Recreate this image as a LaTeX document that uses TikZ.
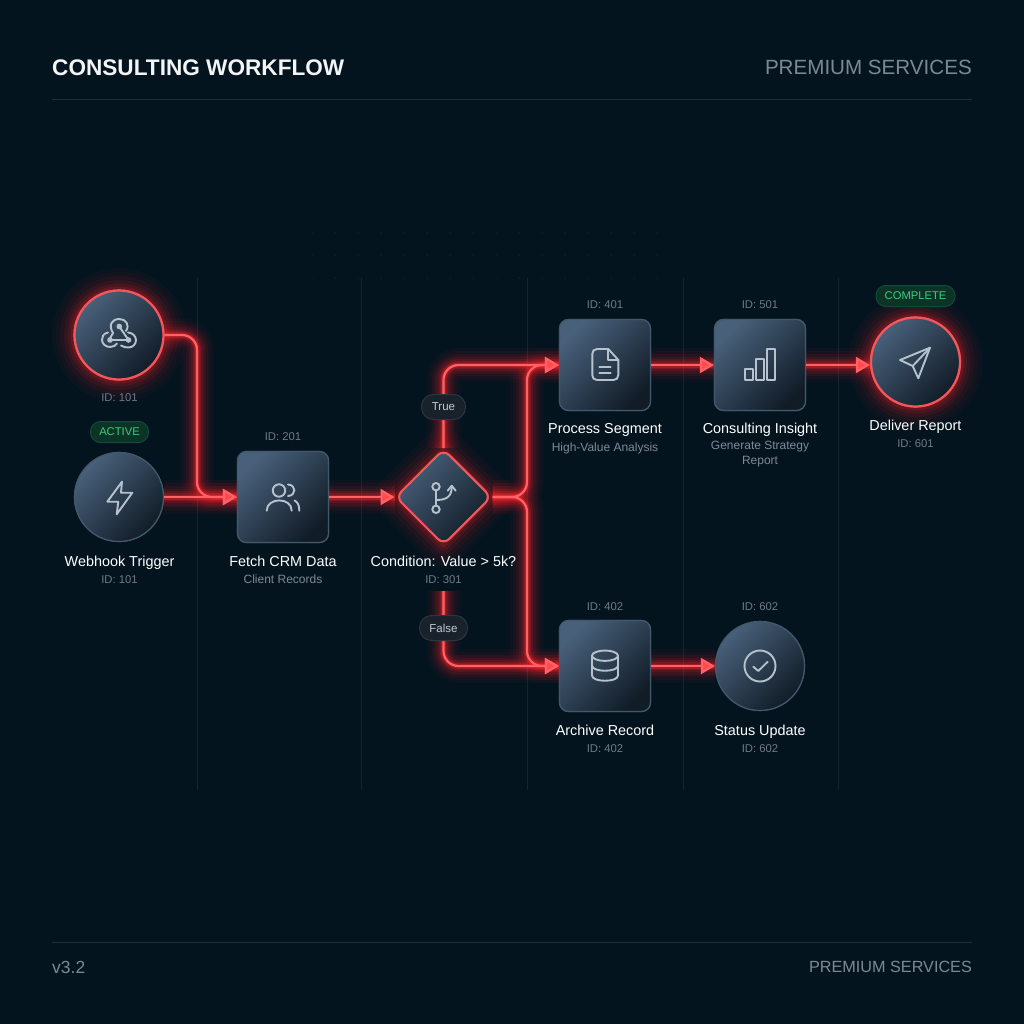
\documentclass[tikz,border=0pt]{standalone}
\usepackage{fontspec}
\setmainfont{Liberation Sans}
\usetikzlibrary{arrows.meta,shapes.geometric}
\definecolor{bgc}{HTML}{04141F}
\definecolor{rulec}{HTML}{1B2F3C}
\definecolor{gridc}{HTML}{14252F}
\definecolor{dotc}{HTML}{0B1E2B}
\definecolor{nodeA}{HTML}{48607A}
\definecolor{nodeB}{HTML}{111C27}
\definecolor{edgeg}{HTML}{42596C}
\definecolor{redc}{HTML}{FF6266}
\definecolor{hotedge}{HTML}{F2575C}
\definecolor{glowc}{HTML}{FF2228}
\definecolor{tipc}{HTML}{FF4A4E}
\definecolor{iconc}{HTML}{B6C3CF}
\definecolor{idc}{HTML}{6E7B86}
\definecolor{subc}{HTML}{7E8A94}
\definecolor{titlec}{HTML}{F2F4F6}
\definecolor{headc}{HTML}{7B8993}
\definecolor{greenc}{HTML}{3FCB7C}
\definecolor{pillg}{HTML}{0B3426}
\definecolor{pillgb}{HTML}{124A36}
\definecolor{pillf}{HTML}{19222B}
\definecolor{pillb}{HTML}{2B3540}
\newcommand{\GlowPath}[1]{%
  \foreach \wd/\op in {34/0.035,28/0.05,22/0.07,17/0.09,12/0.13,8/0.20,5/0.32}{
    \draw[line width=\wd pt,glowc,opacity=\op,line join=round,rounded corners=15pt] #1;
  }
}
\newcommand{\CoreArrow}[1]{\draw[wire,-{Triangle[length=14pt,width=16pt,fill=tipc]}] #1;}
\tikzset{
  wire/.style={line width=2.2pt,redc,rounded corners=15pt,line join=round},
  softbox/.style={rectangle,rounded corners=9pt,minimum size=91pt,inner sep=0pt,draw=edgeg,line width=1.2pt,top color=nodeA,bottom color=nodeB,shading angle=45},
  softcirc/.style={circle,minimum size=89pt,inner sep=0pt,draw=edgeg,line width=1.2pt,top color=nodeA,bottom color=nodeB,shading angle=45},
  hotcirc/.style={softcirc,draw=hotedge,line width=2.2pt},
  hotdiam/.style={diamond,aspect=1,rounded corners=8pt,minimum size=96pt,inner sep=0pt,draw=hotedge,line width=2pt,top color=nodeA,bottom color=nodeB,shading angle=45},
  icn/.style={draw=iconc,line width=1.9pt,line cap=round,line join=round},
  title/.style={anchor=base,inner sep=0pt,text=white,font=\fontsize{14.4}{17}\selectfont},
  idl/.style={anchor=base,inner sep=0pt,text=idc,font=\fontsize{11.3}{14}\selectfont},
  subl/.style={anchor=base,inner sep=0pt,text=subc,font=\fontsize{12}{15}\selectfont,align=center},
  greenpill/.style={rectangle,rounded corners=10pt,minimum height=21pt,inner sep=0pt,fill=pillg,draw=pillgb,line width=1pt,text=greenc,font=\fontsize{11.2}{14}\selectfont},
  greypill/.style={rectangle,rounded corners=12pt,minimum height=25pt,inner sep=0pt,fill=pillf,draw=pillb,line width=1pt,text=iconc!90!white,font=\fontsize{11.5}{14}\selectfont},
}
\begin{document}
\begin{tikzpicture}[x=1pt,y=-1pt]
\useasboundingbox (0,0) rectangle (1024,1024);
\fill[bgc] (0,0) rectangle (1024,1024);
% faint dot grid
\foreach \dx in {312,335,358,381,404,427,450,473,496,519,542,565,588,611,634,657}{
  \foreach \dy in {233,255,278}{
    \fill[dotc] (\dx,\dy) circle[radius=1pt];
  }
}
% header and footer
\draw[rulec,line width=1pt] (52,100) -- (972,100);
\draw[rulec,line width=1pt] (52,942) -- (972,942);
\node[anchor=west,inner sep=0pt,text=titlec,font=\fontsize{22.6}{28}\bfseries\selectfont] (head) at (52,67.5) {CONSULTING WORKFLOW};
\node[anchor=east,inner sep=0pt,text=headc,font=\fontsize{20.6}{26}\selectfont] (headr) at (972,67.5) {PREMIUM SERVICES};
\node[anchor=west,inner sep=0pt,text=headc,font=\fontsize{17.5}{20}\selectfont] (ver) at (52,967) {v3.2};
\node[anchor=east,inner sep=0pt,text=headc,font=\fontsize{16.2}{20}\selectfont] (footr) at (972,967) {PREMIUM SERVICES};
% column lines
\foreach \cx in {197,361,527,683,838}{\draw[gridc,line width=1pt] (\cx,278) -- (\cx,790);}
% nodes (placed first so that connectors can use their names)
\node[hotcirc] (hook) at (119,335) {};
\node[softcirc] (trig) at (119,497) {};
\node[softbox] (fetch) at (283,497) {};
\node[hotdiam] (cond) at (443.5,497) {};
\node[softbox] (proc) at (605,365) {};
\node[softbox] (ins) at (760,365) {};
\node[hotcirc] (dlv) at (915.5,362) {};
\node[softbox] (arch) at (605,666) {};
\node[softcirc] (stat) at (760,666) {};
% way points
\coordinate (w1) at (197,335);
\coordinate (w2) at (197,497);
\coordinate (t1) at (443.5,365);
\coordinate (j1) at (527,497);
\coordinate (j2) at (527,365);
\coordinate (j3) at (527,666);
\coordinate (f0) at (443.5,591);
\coordinate (f1) at (443.5,666);
\coordinate (d0) at (ins.east -| dlv.west);
% glow halos beneath hot nodes
\foreach \wd/\op in {44/0.03,36/0.04,28/0.055,20/0.08,13/0.11,7/0.16}{
  \draw[glowc,opacity=\op,line width=\wd pt] (hook.center) circle[radius=45pt];
  \draw[glowc,opacity=\op,line width=\wd pt] (dlv.center) circle[radius=45pt];
  \draw[glowc,opacity=\op,line width=\wd pt,line join=round] (443.5,451) -- (490.5,497) -- (443.5,544) -- (396.5,497) -- cycle;
}
% connector glow
\GlowPath{(hook.east) -- (w1) -- (w2) -- (fetch.west)}
\GlowPath{(trig.east) -- (fetch.west)}
\GlowPath{(fetch.east) -- (cond.west)}
\GlowPath{(cond.north) -- (t1) -- (proc.west)}
\GlowPath{(cond.east) -- (j1) -- (j2) -- (proc.west)}
\GlowPath{(cond.east) -- (j1) -- (j3) -- (arch.west)}
\GlowPath{(f0) -- (f1) -- (arch.west)}
\GlowPath{(proc.east) -- (ins.west)}
\GlowPath{(ins.east) -- (d0)}
\GlowPath{(arch.east) -- (stat.west)}
% redraw nodes above the glow
\node[hotcirc] at (119,335) {};
\node[softcirc] at (119,497) {};
\node[softbox] at (283,497) {};
\node[hotdiam] at (443.5,497) {};
\node[softbox] at (605,365) {};
\node[softbox] at (760,365) {};
\node[hotcirc] at (915.5,362) {};
\node[softbox] at (605,666) {};
\node[softcirc] at (760,666) {};
% connector cores
\CoreArrow{(hook.east) -- (w1) -- (w2) -- (fetch.west)}
\CoreArrow{(trig.east) -- (fetch.west)}
\CoreArrow{(fetch.east) -- (cond.west)}
\CoreArrow{(cond.north) -- (t1) -- (proc.west)}
\CoreArrow{(cond.east) -- (j1) -- (j2) -- (proc.west)}
\CoreArrow{(cond.east) -- (j1) -- (j3) -- (arch.west)}
\CoreArrow{(f0) -- (f1) -- (arch.west)}
\CoreArrow{(proc.east) -- (ins.west)}
\CoreArrow{(ins.east) -- (d0)}
\CoreArrow{(arch.east) -- (stat.west)}
% pills
\node[greypill,minimum width=44pt] (ptrue) at (443.5,407) {True};
\node[greypill,minimum width=48pt] (pfalse) at (443.5,628) {False};
\node[greenpill,minimum width=58pt] (pact) at (119.5,432) {ACTIVE};
\node[greenpill,minimum width=79pt] (pcomp) at (915.5,296) {COMPLETE};
% labels
\node[idl] (i1) at (119.5,401.5) {ID: 101};
\node[title] (t2) at (119.5,566) {Webhook Trigger};
\node[idl] (i2) at (119.5,583) {ID: 101};
\node[idl] (i3) at (283,440.5) {ID: 201};
\node[title] (t3) at (283,566) {Fetch CRM Data};
\node[subl] (s3) at (283,583) {Client Records};
\node[title] (t4) at (443.5,566) {Condition: Value > 5k?};
\node[idl] (i4) at (443.5,583) {ID: 301};
\node[idl] (i5) at (605,308) {ID: 401};
\node[title] (t5) at (605,433.5) {Process Segment};
\node[subl] (s5) at (605,451) {High-Value Analysis};
\node[idl] (i6) at (760,308) {ID: 501};
\node[title] (t6) at (760,433.5) {Consulting Insight};
\node[subl,anchor=north] (s6) at (760,441) {Generate Strategy\\Report};
\node[title] (t7) at (915.5,430) {Deliver Report};
\node[idl] (i7) at (915.5,447.5) {ID: 601};
\node[idl] (i8) at (605,610) {ID: 402};
\node[title] (t8) at (605,735) {Archive Record};
\node[idl] (i9) at (605,752) {ID: 402};
\node[idl] (i10) at (760,610) {ID: 602};
\node[title] (t9) at (760,735) {Status Update};
\node[idl] (i11) at (760,752) {ID: 602};
% icons
% webhook
\draw[icn] (113,333) .. controls (108,325) and (112,319) .. (119.3,319) .. controls (126,319) and (130,325) .. (126,331);
\draw[icn] (113,333) -- (109,340);
\draw[icn] (119.3,326.5) -- (128.5,340) -- (110,340);
\draw[icn] (108,332.5) .. controls (103,333.5) and (102,337) .. (102,340) .. controls (102,344) and (106,347) .. (110,347) .. controls (113,347) and (116,345.5) .. (117,343.5);
\draw[icn] (121,345.5) .. controls (123,347) and (126,347.5) .. (128.5,347.5) .. controls (133,347.5) and (136,344) .. (136,340) .. controls (136,336) and (132,332.5) .. (128,332.5);
\fill[iconc] (119.3,326.5) circle[radius=2.8pt] (110,340) circle[radius=2.8pt] (128.5,340) circle[radius=2.8pt];
% bolt
\draw[icn] (122,481.7) -- (107.3,501.7) -- (118.3,501.7) -- (116.7,514.3) -- (132.3,492.7) -- (121,492.7) -- cycle;
% people
\draw[icn] (279,490.5) circle[radius=6.2pt];
\draw[icn] (266.7,510.7) .. controls (266.7,497) and (291.7,497) .. (291.7,510.7);
\draw[icn] (288,484.5) .. controls (296.5,485) and (296.5,495.5) .. (288,496);
\draw[icn] (294.5,500.5) .. controls (298,502) and (299.3,506) .. (299.3,510.7);
% branch
\draw[icn] (436,486.7) circle[radius=3.7pt] (436,509.3) circle[radius=3.7pt];
\draw[icn] (436,490.4) -- (436,505.6);
\draw[icn] (436,500) .. controls (446,500) and (451.7,497) .. (451.7,487);
\draw[icn] (447.7,490.7) -- (451.7,485.7) -- (455.7,490.7);
% document
\draw[icn] (608.3,349) -- (597,349) .. controls (594,349) and (592.3,351) .. (592.3,354) -- (592.3,375) .. controls (592.3,378) and (594,380) .. (597,380) -- (613.5,380) .. controls (616.5,380) and (618.3,378) .. (618.3,375) -- (618.3,360) -- cycle;
\draw[icn] (608.3,349) -- (608.3,360) -- (618.3,360);
\draw[icn] (599.3,366.7) -- (610.7,366.7) (599.3,372.7) -- (610.7,372.7);
% bars
\draw[icn,line width=1.7pt] (745,369.3) rectangle (752.7,380);
\draw[icn,line width=1.7pt] (756,359.3) rectangle (764,380);
\draw[icn,line width=1.7pt] (767.3,349.3) rectangle (775.3,380);
% send
\draw[icn] (900,360) -- (930,347.7) -- (918.3,378.3) -- (912.7,366) -- cycle;
\draw[icn] (912.7,366) -- (930,347.7);
% database
\draw[icn] (605,655.7) ellipse[x radius=13pt,y radius=5.2pt];
\draw[icn] (592,655.7) -- (592,675.5) .. controls (592,682.5) and (618,682.5) .. (618,675.5) -- (618,655.7);
\draw[icn] (592,665.5) .. controls (592,672.5) and (618,672.5) .. (618,665.5);
% check
\draw[icn] (760,666) circle[radius=15.5pt];
\draw[icn] (753.3,666.7) -- (758.3,671) -- (767.7,661.7);
\end{tikzpicture}
\end{document}
